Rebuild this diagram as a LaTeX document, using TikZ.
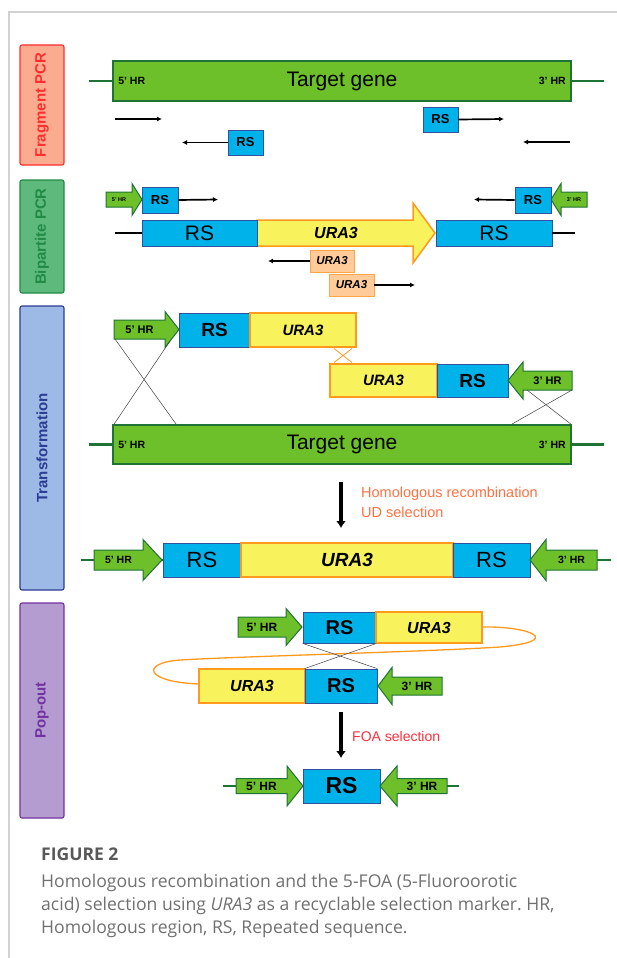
\documentclass[tikz,border=0pt]{standalone}
\usepackage{fontspec}
\setmainfont{Liberation Sans}
\newfontfamily\capfont{Open Sans}
\usetikzlibrary{positioning,arrows.meta,calc}
\definecolor{genegreen}{HTML}{6DC02A}
\definecolor{genedark}{HTML}{1F7335}
\definecolor{rsblue}{HTML}{00B2EA}
\definecolor{rsedge}{HTML}{3050A0}
\definecolor{urayellow}{HTML}{F8F25C}
\definecolor{uraorange}{HTML}{FF9A1E}
\definecolor{peach}{HTML}{FFCB98}
\definecolor{peachedge}{HTML}{FFA54C}
\definecolor{fragfill}{HTML}{FBAC90}
\definecolor{fragred}{HTML}{FF2E2E}
\definecolor{bipfill}{HTML}{5DB97C}
\definecolor{bipgreen}{HTML}{238A45}
\definecolor{transfill}{HTML}{9DBAE6}
\definecolor{transblue}{HTML}{2B3C92}
\definecolor{popfill}{HTML}{B49CD0}
\definecolor{poppurple}{HTML}{7232A2}
\definecolor{hrtext}{HTML}{FF7043}
\definecolor{foared}{HTML}{FF2D3C}
\definecolor{capgray}{HTML}{707070}
\definecolor{titlegray}{HTML}{585858}
\definecolor{framegray}{HTML}{D2D2D2}

\tikzset{
  gene/.style={draw=genedark, fill=genegreen, line width=1.8pt, inner sep=0pt,
    minimum width=458pt, minimum height=40pt},
  rsbox/.style={draw=rsedge, fill=rsblue, line width=0.8pt, inner sep=0pt},
  urabox/.style={draw=uraorange, fill=urayellow, line width=2.4pt, inner sep=0pt},
  peachbox/.style={draw=peachedge, fill=peach, line width=0.8pt, inner sep=0pt,
    minimum height=22pt, font=\bfseries\itshape\fontsize{11.5}{11.5}\selectfont},
  primer/.style={line width=1.7pt, -{Latex[length=5pt,width=5pt]}},
  dna/.style={line width=2.2pt, genedark},
  steplabel/.style={rotate=90, rounded corners=2pt, line width=1.1pt, inner sep=0pt,
    minimum height=44pt, font=\bfseries\fontsize{15}{15}\selectfont},
  hrbody/.style={fill=genegreen, draw=genedark, line width=1pt},
  hrlabel/.style={inner sep=0pt, font=\bfseries\fontsize{10.5}{10.5}\selectfont},
  cross/.style={line width=0.5pt, black!75},
  bigarrow/.style={line width=3.2pt, -{Latex[length=7pt,width=10pt]}},
}

% green homology arm: [label font]{name}{tail x}{tip x}{y}{body half}{head half}{head length}{text}
\newcommand{\hrarrow}[9][]{%
  \filldraw[hrbody] ({#3},{#5-#6}) -- ({#4-(#8)},{#5-#6}) -- ({#4-(#8)},{#5-#7})
    -- ({#4},{#5}) -- ({#4-(#8)},{#5+#7}) -- ({#4-(#8)},{#5+#6})
    -- ({#3},{#5+#6}) -- cycle;
  \node[hrlabel, #1] (#2) at ({(#3+#4-(#8))/2},{#5}) {#9};}

\begin{document}
\frenchspacing
\begin{tikzpicture}[x=1pt, y=-1pt]
  \useasboundingbox (0,0) rectangle (617,958);
  \draw[framegray, line width=1.2pt] (9,958) -- (9,12) -- (617,12);

  % step labels on the left
  \node[steplabel, draw=fragred, fill=fragfill, text=fragred, minimum width=120pt] (lfrag) at (42,105) {Fragment PCR};
  \node[steplabel, draw=bipgreen, fill=bipfill, text=bipgreen, minimum width=113pt] (lbip) at (42,236.5) {Bipartite PCR};
  \node[steplabel, draw=transblue, fill=transfill, text=transblue, minimum width=284pt] (ltrans) at (42,448) {Transformation};
  \node[steplabel, draw=poppurple, fill=popfill, text=poppurple, minimum width=215pt] (lpop) at (42,710.5) {Pop-out};

  % Fragment PCR
  \node[gene] (gene1) at (342,81) {};
  \draw[dna] (89,81) -- (gene1.west);
  \draw[dna] (gene1.east) -- (604,81);
  \node[font=\fontsize{21}{21}\selectfont] (gene1txt) at (gene1) {Target gene};
  \node[hrlabel, anchor=west] (g1five) at ([xshift=6pt]gene1.west) {5' HR};
  \node[hrlabel, anchor=east] (g1three) at ([xshift=-6pt]gene1.east) {3' HR};

  \coordinate (p1a) at (115,119);
  \coordinate (p1b) at (162,119);
  \draw[primer] (p1a) -- (p1b);
  \node[rsbox, minimum width=35pt, minimum height=25pt, font=\bfseries\fontsize{13}{13}\selectfont] (frs1) at (440.5,119.5) {RS};
  \coordinate (p2b) at (504,119);
  \draw[primer] (frs1.east) -- (p2b);
  \node[rsbox, minimum width=35pt, minimum height=25pt, font=\bfseries\fontsize{13}{13}\selectfont] (frs2) at (245.5,142.5) {RS};
  \coordinate (p3b) at (182,142.5);
  \draw[primer] (frs2.west) -- (p3b);
  \coordinate (p4a) at (570,142);
  \coordinate (p4b) at (523,142);
  \draw[primer, line width=2.6pt] (p4a) -- (p4b);

  % Bipartite PCR
  \hrarrow[font=\bfseries\fontsize{5.5}{5.5}\selectfont]{bhr5}{106}{142}{199.5}{7.5}{16}{10}{5' HR}
  \node[rsbox, minimum width=36pt, minimum height=26pt, font=\bfseries\fontsize{13}{13}\selectfont] (brs1) at (160,200) {RS};
  \coordinate (bp1) at (218,199.5);
  \draw[primer] (brs1.east) -- (bp1);
  \hrarrow[font=\bfseries\fontsize{5.5}{5.5}\selectfont]{bhr3}{587}{551}{199.5}{7.5}{16}{-10}{3' HR}
  \node[rsbox, minimum width=36pt, minimum height=26pt, font=\bfseries\fontsize{13}{13}\selectfont] (brs2) at (533,200) {RS};
  \coordinate (bp2) at (474,199.5);
  \draw[primer] (brs2.west) -- (bp2);

  \filldraw[fill=urayellow, draw=uraorange, line width=1.5pt]
    (257,220) -- (413,220) -- (413,203) -- (435,233) -- (413,263) -- (413,246) -- (257,246) -- cycle;
  \node[font=\bfseries\itshape\fontsize{16}{16}\selectfont] (bura) at (336,233) {URA3};
  \node[rsbox, minimum width=115pt, minimum height=26pt, font=\fontsize{21}{21}\selectfont] (bm1) at (199.5,233) {RS};
  \node[rsbox, minimum width=116pt, minimum height=26pt, font=\fontsize{21}{21}\selectfont] (bm2) at (494,233) {RS};
  \coordinate (bl1) at (115,233);
  \coordinate (bl2) at (575,233);
  \draw[line width=2pt] (bl1) -- (bm1.west);
  \draw[line width=2pt] (bm2.east) -- (bl2);

  \node[peachbox, minimum width=44pt] (bu1) at (332,261) {URA3};
  \coordinate (bp3) at (268,261);
  \draw[primer] (bu1.west) -- (bp3);
  \node[peachbox, minimum width=45pt] (bu2) at (351.5,285) {URA3};
  \coordinate (bp4) at (415,285);
  \draw[primer] (bu2.east) -- (bp4);

  % Transformation
  \hrarrow[font=\bfseries\fontsize{11}{11}\selectfont]{thr5}{114}{179}{329.5}{9.5}{18}{14}{5' HR}
  \node[rsbox, minimum width=71pt, minimum height=34pt, font=\bfseries\fontsize{19}{19}\selectfont] (trs1) at (214.5,330) {RS};
  \node[urabox, minimum width=106pt, minimum height=34pt, font=\bfseries\itshape\fontsize{15}{15}\selectfont] (tura1) at (303,330) {URA3};
  \node[urabox, minimum width=107pt, minimum height=33pt, font=\bfseries\itshape\fontsize{15}{15}\selectfont] (tura2) at (383.5,380.5) {URA3};
  \node[rsbox, minimum width=71pt, minimum height=33pt, font=\bfseries\fontsize{19}{19}\selectfont] (trs2) at (472.5,380.5) {RS};
  \hrarrow[font=\bfseries\fontsize{11}{11}\selectfont]{thr3}{572}{508}{380.5}{9.5}{18.5}{-15}{3' HR}
  \draw[uraorange, line width=0.8pt] (334,348.5) -- (352,362.5) (352,348.5) -- (334,362.5);

  \node[gene, minimum height=39pt] (gene2) at (342,444.5) {};
  \draw[dna] (89,444.5) -- (gene2.west);
  \draw[dna] (gene2.east) -- (604,444.5);
  \node[font=\fontsize{21}{21}\selectfont] (gene2txt) at (gene2) {Target gene};
  \node[hrlabel, anchor=west] (g2five) at ([xshift=6pt]gene2.west) {5' HR};
  \node[hrlabel, anchor=east] (g2three) at ([xshift=-6pt]gene2.east) {3' HR};

  \draw[cross] (115,339) -- ([xshift=64pt]gene2.north west);
  \draw[cross] (170,341) -- ([xshift=2pt]gene2.north west);
  \draw[cross] (527,390) -- ([xshift=-1pt]gene2.north east);
  \draw[cross] (572,390) -- ([xshift=-60pt]gene2.north east);

  \coordinate (hra) at (341,482);
  \coordinate (hrb) at (341,528);
  \draw[bigarrow] (hra) -- (hrb);
  \node[anchor=base west, inner sep=0pt, text=hrtext, font=\fontsize{14.5}{14.5}\selectfont] (hrlab1) at (361,497) {Homologous recombination};
  \node[anchor=base west, inner sep=0pt, text=hrtext, font=\fontsize{14.5}{14.5}\selectfont] (hrlab2) at (361,517) {UD selection};

  \coordinate (r4a) at (81,560);
  \coordinate (r4b) at (611,560);
  \draw[dna] (r4a) -- (r4b);
  \hrarrow{rhr5}{94}{162}{560}{10}{20.5}{19}{5' HR}
  \node[rsbox, minimum width=78pt, minimum height=34pt, font=\fontsize{22}{22}\selectfont] (rrs1) at (202,560) {RS};
  \node[urabox, minimum width=212pt, minimum height=34pt, font=\bfseries\itshape\fontsize{19}{19}\selectfont] (rura) at (347,560) {URA3};
  \node[rsbox, minimum width=77pt, minimum height=34pt, font=\fontsize{22}{22}\selectfont] (rrs2) at (491.5,560) {RS};
  \hrarrow{rhr3}{597}{530}{560}{10}{20.5}{-16}{3' HR}

  % Pop-out
  \draw[uraorange, line width=1.3pt] (482,627) .. controls (530,626) and (565,641) .. (500,647)
    .. controls (420,652) and (250,656) .. (180,660)
    .. controls (140,663) and (145,682) .. (199,684);
  \hrarrow[font=\bfseries\fontsize{12}{12}\selectfont]{phr5}{238}{302}{627}{10}{18.5}{16}{5' HR}
  \node[rsbox, minimum width=73pt, minimum height=31pt, font=\bfseries\fontsize{20}{20}\selectfont] (prs1) at (339.5,627.5) {RS};
  \node[urabox, minimum width=106pt, minimum height=31pt, font=\bfseries\itshape\fontsize{16}{16}\selectfont] (pura1) at (429,627.5) {URA3};
  \node[urabox, minimum width=106pt, minimum height=34pt, font=\bfseries\itshape\fontsize{16}{16}\selectfont] (pura2) at (252,686) {URA3};
  \node[rsbox, minimum width=72pt, minimum height=34pt, font=\bfseries\fontsize{20}{20}\selectfont] (prs2) at (341,686) {RS};
  \hrarrow[font=\bfseries\fontsize{12}{12}\selectfont]{phr3}{442}{378}{686}{9}{18.5}{-14}{3' HR}
  \draw[cross] (prs1.south west) -- (prs2.north east);
  \draw[cross] (prs1.south east) -- (prs2.north west);

  \coordinate (foaa) at (341,712);
  \coordinate (foab) at (341,758);
  \draw[bigarrow] (foaa) -- (foab);
  \node[anchor=base west, inner sep=0pt, text=foared, font=\fontsize{14}{14}\selectfont] (foalab) at (352,741) {FOA selection};

  \coordinate (fna) at (223,786);
  \coordinate (fnb) at (459,786);
  \draw[dna] (fna) -- (fnb);
  \hrarrow[font=\bfseries\fontsize{12}{12}\selectfont]{fhr5}{236}{303}{786}{7.5}{20}{16}{5' HR}
  \node[rsbox, minimum width=77pt, minimum height=34pt, font=\bfseries\fontsize{23}{23}\selectfont] (frs) at (341.5,786) {RS};
  \hrarrow[font=\bfseries\fontsize{12}{12}\selectfont]{fhr3}{447}{380}{786}{7.5}{20}{-17}{3' HR}

  % caption
  \node[anchor=base west, inner sep=0pt, text=titlegray, font=\capfont\bfseries\fontsize{17.5}{17.5}\selectfont] (figno) at (41,860) {FIGURE 2};
  \node[anchor=base west, inner sep=0pt, text=capgray, font=\capfont\fontsize{17.6}{17.6}\selectfont] (cap1) at (41,887) {Homologous recombination and the 5-FOA (5-Fluoroorotic};
  \node[anchor=base west, inner sep=0pt, text=capgray, font=\capfont\fontsize{17.6}{17.6}\selectfont] (cap2) at (41,910) {acid) selection using \textit{URA3} as a recyclable selection marker. HR,};
  \node[anchor=base west, inner sep=0pt, text=capgray, font=\capfont\fontsize{17.6}{17.6}\selectfont] (cap3) at (41,933) {Homologous region, RS, Repeated sequence.};
\end{tikzpicture}
\end{document}
